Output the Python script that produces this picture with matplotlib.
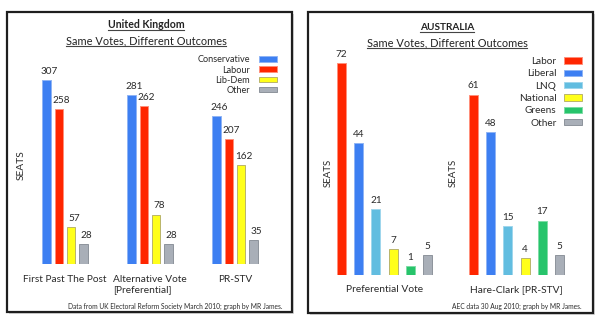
import matplotlib
matplotlib.use("Agg")
import matplotlib.pyplot as plt
from matplotlib.patches import Rectangle, Patch
from matplotlib.lines import Line2D

plt.rcParams['font.family'] = ['Lato', 'DejaVu Sans']

# ---------------- data ----------------
uk_systems = ["First Past The Post", "Alternative Vote\n[Preferential]", "PR-STV"]
uk_parties = ["Conservative", "Labour", "Lib-Dem", "Other"]
uk_conservative = [307, 281, 246]
uk_labour = [258, 262, 207]
uk_libdem = [57, 78, 162]
uk_other = [28, 28, 35]
uk_colors = ["#3d7ff2", "#ff2600", "#ffff1a", "#a9afb8"]
uk_edges = ["#8fb4f5", "#ff8f7a", "#b9b46a", "#8d939c"]

au_systems = ["Preferential Vote", "Hare-Clark [PR-STV]"]
au_parties = ["Labor", "Liberal", "LNQ", "National", "Greens", "Other"]
au_labor = [72, 61]
au_liberal = [44, 48]
au_lnq = [21, 15]
au_national = [7, 4]
au_greens = [1, 17]
au_other = [5, 5]
au_colors = ["#ff2600", "#3d7ff2", "#62bde0", "#ffff1a", "#27c46b", "#a9afb8"]
au_edges = ["#ff8f7a", "#8fb4f5", "#9fd6ec", "#b9b46a", "#7fdca6", "#8d939c"]

W, H = 600, 322
fig = plt.figure(figsize=(W / 100, H / 100), dpi=100)
fig.patch.set_facecolor("white")


def fx(px):
    return px / W


def fy(py):
    return 1 - py / H


def px_axes(l, t, r, b):
    ax = fig.add_axes([fx(l), fy(b), fx(r) - fx(l), fy(t) - fy(b)])
    ax.set_axis_off()
    ax.set_zorder(5)
    return ax


# panel frames with soft shadow
for (l, t, r, b) in [(7, 12, 292, 312), (308, 12, 593, 313)]:
    fig.add_artist(Rectangle((fx(l + 2), fy(b + 2)), fx(r - l), fy(t) - fy(b),
                             transform=fig.transFigure, facecolor="#d8d8d8",
                             edgecolor="none", zorder=0))
    fig.add_artist(Rectangle((fx(l), fy(b)), fx(r - l), fy(t) - fy(b),
                             transform=fig.transFigure, facecolor="white",
                             edgecolor="#1e1e1e", lw=1.6, zorder=1))

txt_col = "#2a2a2a"


def bars(ax, series, colors, edges, spacing_px, width_px, unit_px, base, label_dx):
    n = len(series)
    for j, (vals, c, e) in enumerate(zip(series, colors, edges)):
        off = (j - (n - 1) / 2) * spacing_px / unit_px
        xs = [i + off for i in range(len(vals))]
        ax.bar(xs, [v - base for v in vals], bottom=base, width=width_px / unit_px,
               color=c, edgecolor=e, linewidth=0.7, zorder=3)
        for x, v in zip(xs, vals):
            ax.annotate(str(v), (x, v), xytext=(label_dx, 3), textcoords="offset points",
                        ha="center", va="bottom", fontsize=7.2, color=txt_col)


# ---------------- UK ----------------
uk_l, uk_t, uk_r, uk_b = 7, 12, 292, 264
uk_unit = 85.0
uk_c0 = 65.0
uk_base, uk_scale = -6.0, 0.588
ax1 = px_axes(uk_l, uk_t, uk_r, uk_b)
ax1.set_xlim((uk_l - uk_c0) / uk_unit, (uk_r - uk_c0) / uk_unit)
ax1.set_ylim(uk_base, uk_base + (uk_b - uk_t) / uk_scale)
bars(ax1, [uk_conservative, uk_labour, uk_libdem, uk_other], uk_colors, uk_edges,
     12.3, 8.5, uk_unit, uk_base, 2)
for i, s in enumerate(uk_systems):
    ax1.annotate(s, (i, uk_base), xytext=(0, -8), textcoords="offset points",
                 ha="center", va="top", fontsize=7.3, color=txt_col,
                 multialignment="left", linespacing=1.1, annotation_clip=False)
ax1.legend(handles=[Patch(facecolor=c, edgecolor=e, lw=0.7) for c, e in zip(uk_colors, uk_edges)],
           labels=uk_parties, loc="upper right", bbox_to_anchor=(fx(277), fy(55.5)),
           bbox_transform=fig.transFigure, frameon=False, markerfirst=False,
           fontsize=6.6, handlelength=1.95, handleheight=0.6, handletextpad=1.0,
           labelspacing=0.12, borderpad=0, borderaxespad=0, labelcolor=txt_col)
fig.text(fx(21), fy(165), "SEATS", rotation=90, ha="center", va="center",
         fontsize=7.4, color=txt_col)

# ---------------- Australia ----------------
au_l, au_t, au_r, au_b = 308, 12, 593, 275
au_unit = 132.0
au_c0 = 384.5
au_base, au_scale = -2.0, 2.865
ax2 = px_axes(au_l, au_t, au_r, au_b)
ax2.set_xlim((au_l - au_c0) / au_unit, (au_r - au_c0) / au_unit)
ax2.set_ylim(au_base, au_base + (au_b - au_t) / au_scale)
bars(ax2, [au_labor, au_liberal, au_lnq, au_national, au_greens, au_other],
     au_colors, au_edges, 17.3, 9, au_unit, au_base, 0)
for i, s in enumerate(au_systems):
    ax2.annotate(s, (i, au_base), xytext=(0, -7.5), textcoords="offset points",
                 ha="center", va="top", fontsize=7.4, color=txt_col, annotation_clip=False)
ax2.legend(handles=[Patch(facecolor=c, edgecolor=e, lw=0.7) for c, e in zip(au_colors, au_edges)],
           labels=au_parties, loc="upper right", bbox_to_anchor=(fx(582), fy(57)),
           bbox_transform=fig.transFigure, frameon=False, markerfirst=False,
           fontsize=7.2, handlelength=1.85, handleheight=0.6, handletextpad=0.7,
           labelspacing=0.33, borderpad=0, borderaxespad=0, labelcolor=txt_col)
for x in (328, 453):
    fig.text(fx(x), fy(173), "SEATS", rotation=90, ha="center", va="center",
             fontsize=7.0, color=txt_col)

# ---------------- titles & notes ----------------
titles = [
    (146, 25, "United Kingdom", "bold", 7.6),
    (146, 41, "Same Votes, Different Outcomes", "normal", 7.9),
    (447, 28, "AUSTRALIA", "bold", 7.2),
    (447, 43, "Same Votes, Different Outcomes", "normal", 7.9),
]
title_texts = []
for x, y, s, w, fs in titles:
    t = fig.text(fx(x), fy(y), s, ha="center", va="center", fontsize=fs,
                 fontweight=w, color="#222222")
    title_texts.append(t)

fig.text(fx(282), fy(306), "Data from UK Electoral Reform Society March 2010; graph by MR James.",
         ha="right", va="center", fontsize=4.8, color=txt_col)
fig.text(fx(582), fy(306), "AEC data 30 Aug 2010; graph by MR James.",
         ha="right", va="center", fontsize=4.8, color=txt_col)

# underline titles
fig.canvas.draw()
r = fig.canvas.get_renderer()
for t in title_texts:
    bb = t.get_window_extent(renderer=r)
    y = (bb.y0 + 0.5) / H
    fig.add_artist(Line2D([bb.x0 / W, bb.x1 / W], [y, y], transform=fig.transFigure,
                          color="#444444", lw=0.8, zorder=6))

fig.savefig("out.png", dpi=100, facecolor="white")
